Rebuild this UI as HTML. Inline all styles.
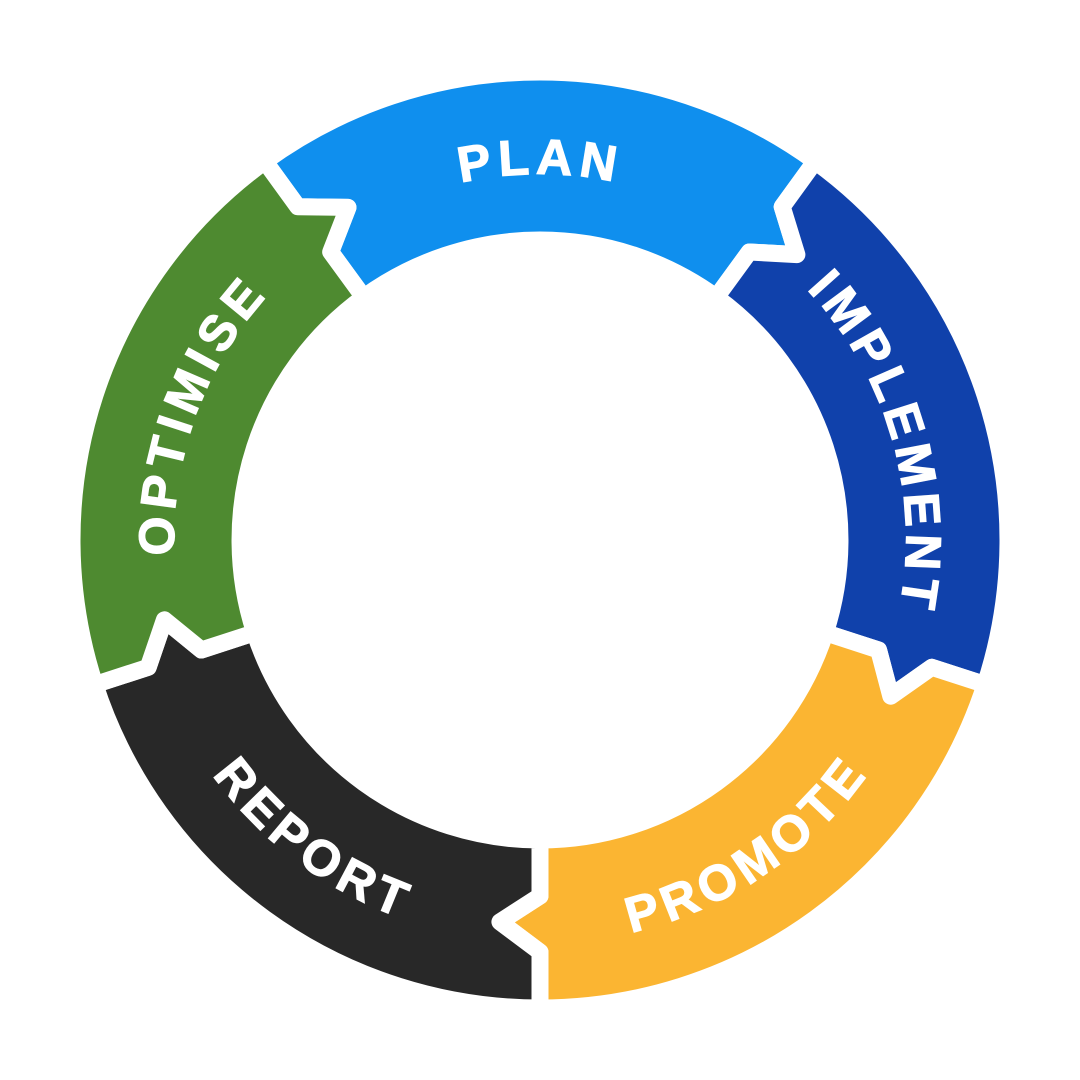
<!DOCTYPE html>
<html><head><meta charset="utf-8"><style>
html,body{margin:0;padding:0;background:#fff;width:1080px;height:1080px;overflow:hidden}
svg text{font-family:"Liberation Sans",sans-serif;font-weight:bold;fill:#fff;font-size:50px;letter-spacing:6px;stroke:#fff;stroke-width:1.2px}
</style></head><body>
<svg id="s" width="1080" height="1080" viewBox="0 0 1080 1080" xmlns="http://www.w3.org/2000/svg"></svg>
<script>
var cx=540,cy=540,RO=468,RI=300,R1=412,R2=356,RT=384,TIP=6;
function P(r,a){a=a*Math.PI/180;return (cx+r*Math.cos(a)).toFixed(1)+","+(cy+r*Math.sin(a)).toFixed(1);}
var segs=[
 {a:-126,c:"#0f8fee",t:"PLAN",tc:-90,cw:true},
 {a:-54,c:"#1041ab",t:"IMPLEMENT",tc:-16,cw:true},
 {a:18,c:"#fbb532",t:"PROMOTE",tc:56,cw:false},
 {a:90,c:"#282828",t:"REPORT",tc:127,cw:false},
 {a:162,c:"#4e8a30",t:"OPTIMISE",tc:200,cw:true}
];
var h="",d="";
segs.forEach(function(s,i){
 var a0=s.a,a1=s.a+72;
 var p="M"+P(RO,a0)+" A"+RO+","+RO+" 0 0 1 "+P(RO,a1)+" L"+P(R1,a1)+" L"+P(RT,a1+TIP)+" L"+P(R2,a1)+" L"+P(RI,a1)+
  " A"+RI+","+RI+" 0 0 0 "+P(RI,a0)+" L"+P(R2,a0)+" L"+P(RT,a0+TIP)+" L"+P(R1,a0)+" Z";
 h+='<path d="'+p+'" fill="'+s.c+'" stroke="#fff" stroke-width="17" stroke-linejoin="round"/>';
 var tp;
 if(s.cw){var rb=366;tp="M"+P(rb,s.tc-80)+" A"+rb+","+rb+" 0 0 1 "+P(rb,s.tc+80);}
 else{var rb=403;tp="M"+P(rb,s.tc+80)+" A"+rb+","+rb+" 0 0 0 "+P(rb,s.tc-80);}
 d+='<path id="tp'+i+'" d="'+tp+'" fill="none"/>';
 h+='<text><textPath href="#tp'+i+'" startOffset="50%" text-anchor="middle">'+s.t+'</textPath></text>';
});
document.getElementById("s").innerHTML="<defs>"+d+"</defs>"+h;
</script>
</body></html>
